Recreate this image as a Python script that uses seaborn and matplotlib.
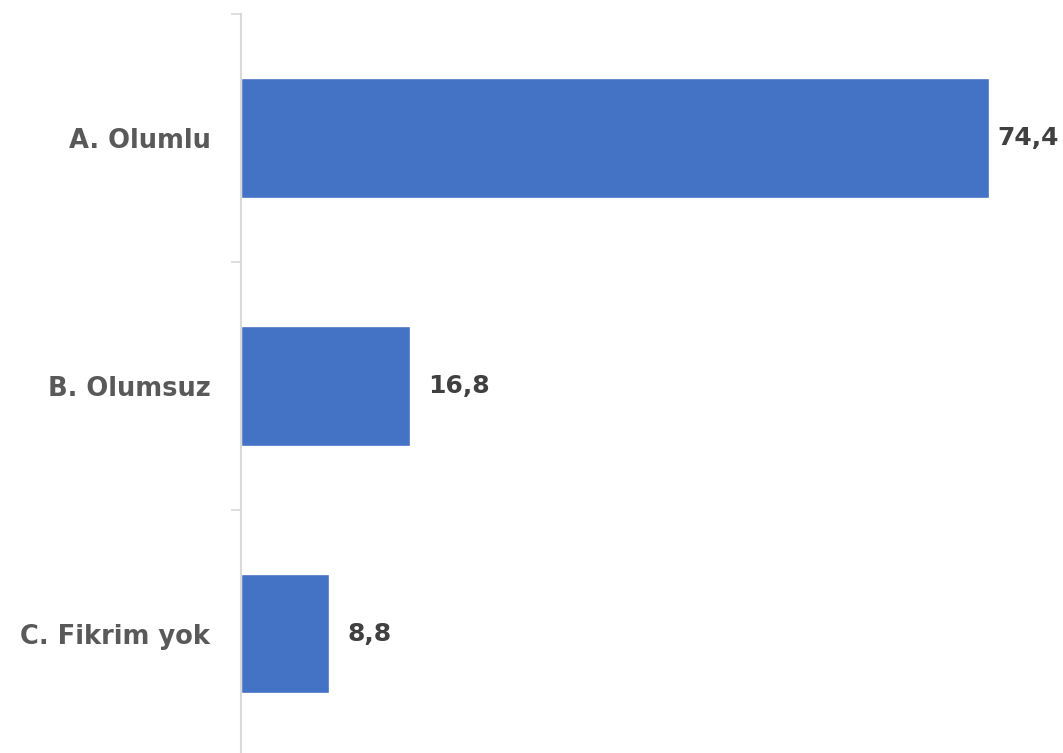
import seaborn as sns
import pandas as pd
import numpy as np
import matplotlib.pyplot as plt

categories = ["A. Olumlu", "B. Olumsuz", "C. Fikrim yok"]
values = [74.4, 16.8, 8.8]

sns.set_style("white")
plt.rcParams['font.family'] = ['DejaVu Sans']

df = pd.DataFrame({"kategori": categories, "oran": values})

fig = plt.figure(figsize=(10.63, 7.53), dpi=100)
ax = fig.add_axes([0.2267, -0.0066, 0.7733, 0.988])
sns.barplot(data=df, x="oran", y="kategori", color="#4472C4", width=0.48,
            saturation=1, ax=ax)

ax.set_xlim(0, 81.8)
ax.set_ylim(2.5, -0.5)
ax.set_xlabel("")
ax.set_ylabel("")
ax.set_xticks([])
ax.set_yticks([-0.5, 0.5, 1.5, 2.5], minor=False)
ax.set_yticks([0, 1, 2], minor=True)
ax.set_yticklabels([])
ax.set_yticklabels(categories, minor=True)
ax.tick_params(axis="y", which="major", length=7.5, width=1.2, color="#d9d9d9", left=True)
ax.tick_params(axis="y", which="minor", length=0, pad=22, labelsize=18.5,
               labelcolor="#595959")
for lab in ax.get_yticklabels(minor=True):
    lab.set_fontweight("bold")

for s in ["top", "right", "bottom"]:
    ax.spines[s].set_visible(False)
ax.spines["left"].set_color("#d9d9d9")
ax.spines["left"].set_linewidth(1.5)

txt = [f"{v:.1f}".replace(".", ",") for v in values]
bars = ax.containers[0]
ax.bar_label(bars, labels=[txt[0], "", ""], padding=6,
             fontsize=18, fontweight="bold", color="#404040")
ax.bar_label(bars, labels=["", txt[1], txt[2]], padding=13,
             fontsize=18, fontweight="bold", color="#404040")

fig.savefig("out.png", dpi=100)
